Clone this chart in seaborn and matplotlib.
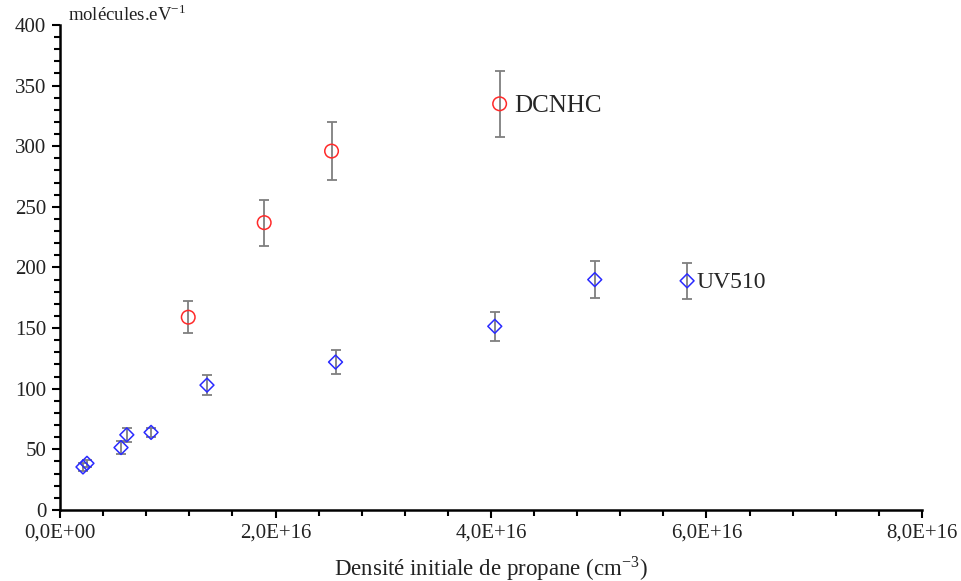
import numpy as np
import pandas as pd
import matplotlib
matplotlib.use('Agg')
import matplotlib.pyplot as plt
from matplotlib.ticker import MultipleLocator, FuncFormatter
import seaborn as sns

# DCNHC points (density in cm-3, yield in molecules/eV, error)
dcnhc_x = [1.19e16, 1.895e16, 2.52e16, 4.08e16]
dcnhc_y = [159, 237, 296, 335]
dcnhc_err = [13, 19, 24, 27]

# UV510 points
uv_x = [0.213e16, 0.25e16, 0.566e16, 0.62e16, 0.845e16, 1.364e16, 2.557e16, 4.035e16, 4.963e16, 5.82e16]
uv_y = [35.5, 38.5, 51.5, 62, 64, 103, 122, 151.5, 190, 189]
uv_err = [3, 3, 5, 6, 4, 8, 10, 12, 15, 15]

x_ticks = [0, 2e16, 4e16, 6e16, 8e16]
y_ticks = [0, 50, 100, 150, 200, 250, 300, 350, 400]

df_d = pd.DataFrame({'x': dcnhc_x, 'y': dcnhc_y, 'err': dcnhc_err})
df_u = pd.DataFrame({'x': uv_x, 'y': uv_y, 'err': uv_err})

sns.set_style("ticks")
plt.rcParams['font.family'] = ['Liberation Serif', 'DejaVu Serif']
plt.rcParams['mathtext.fontset'] = 'stix'

fig = plt.figure(figsize=(9.62, 5.81), dpi=100)
ax = fig.add_axes([0.0624, 0.1222, 0.8960, 0.8348])

# error bars first, grey
ax.errorbar(df_d['x'], df_d['y'], yerr=df_d['err'], fmt='none', ecolor='#7f7f7f',
            elinewidth=1.3, capsize=3.5, capthick=1.3, zorder=1)
ax.errorbar(df_u['x'], df_u['y'], yerr=df_u['err'], fmt='none', ecolor='#7f7f7f',
            elinewidth=1.3, capsize=3.5, capthick=1.3, zorder=1)

sns.scatterplot(data=df_d, x='x', y='y', ax=ax, marker='o', s=95,
                facecolor='none', edgecolor='#ff2a2a', linewidth=1.1, zorder=3)
sns.scatterplot(data=df_u, x='x', y='y', ax=ax, marker='D', s=50,
                facecolor='none', edgecolor='#2a2aff', linewidth=1.1, zorder=3)

ax.text(4.22e16, 333, 'DCNHC', fontsize=18, va='center', ha='left')
ax.text(5.91e16, 188, 'UV510', fontsize=17, va='center', ha='left')

ax.set_xlim(0, 8e16)
ax.set_ylim(0, 400)
ax.set_xticks(x_ticks)
ax.set_yticks(y_ticks)
ax.xaxis.set_minor_locator(MultipleLocator(0.4e16))
ax.yaxis.set_minor_locator(MultipleLocator(10))
ax.xaxis.set_major_formatter(FuncFormatter(lambda v, p: ('%.1E' % v).replace('.', ',')))

sns.despine(ax=ax)
for s in ['left', 'bottom']:
    ax.spines[s].set_linewidth(1.8)
    ax.spines[s].set_color('black')
ax.tick_params(which='major', direction='out', length=6, width=1.5, labelsize=15, colors='black', pad=4)
ax.tick_params(which='minor', direction='out', length=4, width=1.5, colors='black')
for lab in ax.get_xticklabels() + ax.get_yticklabels():
    lab.set_color('#222222')

ax.set_xlabel('Densité initiale de propane (cm$^{\\mathregular{-3}}$)', fontsize=16.5,
              labelpad=8, color='#222222')
ax.set_ylabel('')
ax.text(0.009, 1.0, 'molécules.eV$^{\\mathregular{-1}}$', transform=ax.transAxes,
        fontsize=13.5, ha='left', va='bottom', color='#222222')

fig.savefig('out.png', dpi=100)
